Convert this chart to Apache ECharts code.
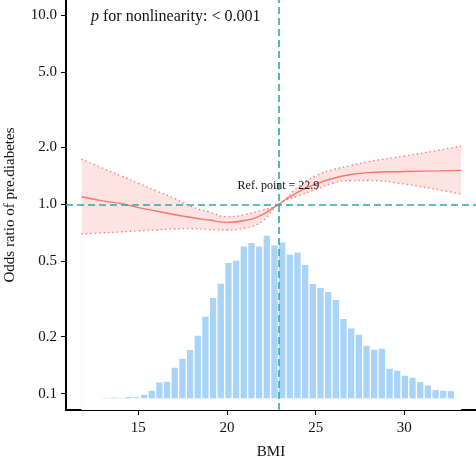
<!DOCTYPE html>
<html>
<head>
<meta charset="utf-8">
<script src="https://cdn.jsdelivr.net/npm/echarts@6/dist/echarts.min.js"></script>
<style>
  html, body { margin: 0; padding: 0; background: #fff; }
  #main { width: 476px; height: 458px; }
</style>
</head>
<body>
<div id="main"></div>
<script>
// spline curve (BMI -> odds ratio with 95% CI)
const bmi = [11.8, 13, 14, 15, 16, 17, 18, 19, 20, 21, 22, 22.9, 24, 25, 26, 27, 28, 30, 32, 33.2];
const oddsRatio = [1.097, 1.043, 1.01, 0.961, 0.922, 0.884, 0.852, 0.826, 0.803, 0.821, 0.883, 1.0, 1.161, 1.28, 1.374, 1.437, 1.47, 1.49, 1.503, 1.512];
const upperCI = [1.735, 1.551, 1.416, 1.293, 1.181, 1.078, 0.974, 0.911, 0.86, 0.883, 0.933, 1.0, 1.234, 1.411, 1.527, 1.603, 1.683, 1.8, 1.936, 2.032];
const lowerCI = [0.697, 0.707, 0.715, 0.724, 0.732, 0.741, 0.745, 0.736, 0.732, 0.749, 0.816, 1.0, 1.106, 1.197, 1.296, 1.336, 1.336, 1.28, 1.19, 1.131];

// BMI distribution (bin centres, relative frequency)
const binCenters = [13.158, 13.591, 14.023, 14.456, 14.888, 15.321, 15.754, 16.186, 16.619, 17.051,
  17.484, 17.917, 18.349, 18.782, 19.214, 19.647, 20.080, 20.512, 20.945, 21.377,
  21.810, 22.243, 22.675, 23.108, 23.540, 23.973, 24.406, 24.838, 25.271, 25.703,
  26.136, 26.569, 27.001, 27.434, 27.866, 28.299, 28.732, 29.164, 29.597, 30.029,
  30.462, 30.895, 31.327, 31.760, 32.192, 32.625];
const binFreq = [0.4, 0.7, 0.4, 1.2, 1.0, 3.5, 7.5, 15.8, 16.5, 30.5,
  39.5, 48.2, 62.5, 81.5, 100.2, 114.5, 135.2, 137.5, 151.8, 155.2,
  151.8, 162.5, 152.8, 155.8, 143.5, 145.8, 133.2, 114.2, 110.2, 106.2,
  98.2, 79.2, 69.8, 63.5, 52.5, 48.5, 49.5, 29.5, 27.5, 22.5,
  20.5, 16.2, 12.8, 8.2, 7.5, 7.2];

const xTicks = [15, 20, 25, 30];
const yTicks = [0.1, 0.2, 0.5, 1, 2, 5, 10];
const refPoint = 22.9;

const font = '"Liberation Serif", "DejaVu Serif", serif';
const red = '#F8766D';
const teal = '#35A7A0';

const zip = (xs, ys) => xs.map((x, i) => [x, ys[i]]);

let myChart = echarts.init(document.getElementById('main'));

let option = {
  animation: false,
  title: {
    text: '{i|p} for nonlinearity: < 0.001',
    left: 86,
    top: 4,
    textStyle: {
      fontFamily: font,
      fontSize: 16,
      fontWeight: 'normal',
      color: '#111',
      rich: {
        i: { fontFamily: font, fontSize: 16, fontStyle: 'italic', color: '#111' }
      }
    }
  },
  grid: {
    left: 66,
    right: 0,
    top: 0,
    bottom: 48,
    outerBoundsMode: 'none'
  },
  xAxis: {
    type: 'value',
    min: 10.92,
    max: 34.04,
    name: 'BMI',
    nameLocation: 'middle',
    nameGap: 35,
    nameTextStyle: { fontFamily: font, fontSize: 15, color: '#111' },
    axisLine: { show: true, onZero: false, lineStyle: { color: '#000', width: 2 } },
    axisTick: { show: true, length: 5, customValues: xTicks, lineStyle: { color: '#000', width: 1 } },
    axisLabel: { customValues: xTicks, margin: 11, fontFamily: font, fontSize: 15, color: '#111' },
    splitLine: { show: false }
  },
  yAxis: [
    {
      type: 'log',
      min: 0.082,
      max: 12,
      name: 'Odds ratio of pre.diabetes',
      nameLocation: 'middle',
      nameRotate: 90,
      nameGap: 48,
      nameTextStyle: { fontFamily: font, fontSize: 15, color: '#111' },
      axisLine: { show: true, onZero: false, lineStyle: { color: '#000', width: 2 } },
      axisTick: { show: true, length: 5, customValues: yTicks, lineStyle: { color: '#000', width: 1 } },
      axisLabel: {
        customValues: yTicks,
        margin: 9,
        fontFamily: font,
        fontSize: 15,
        color: '#111',
        formatter: v => Number(v).toFixed(1)
      },
      splitLine: { show: false }
    },
    {
      // hidden scale for the histogram
      type: 'value',
      min: -11.7,
      max: 398,
      show: false
    }
  ],
  series: [
    {
      // CI band: upper bound filled pink, lower bound masked with white
      name: 'upper',
      type: 'line',
      smooth: true,
      showSymbol: false,
      lineStyle: { color: red, width: 1.3, type: [1.4, 3] },
      areaStyle: { color: '#FDE3E1', opacity: 1, origin: 'start' },
      data: zip(bmi, upperCI),
      z: 1
    },
    {
      name: 'lower',
      type: 'line',
      smooth: true,
      showSymbol: false,
      lineStyle: { color: red, width: 1.3, type: [1.4, 3] },
      areaStyle: { color: '#fff', opacity: 1, origin: 'start' },
      data: zip(bmi, lowerCI),
      z: 1
    },
    {
      name: 'hist',
      type: 'bar',
      yAxisIndex: 1,
      barWidth: 6.3,
      itemStyle: { color: '#A9D4FA' },
      data: zip(binCenters, binFreq),
      z: 2
    },
    {
      name: 'OR',
      type: 'line',
      smooth: true,
      showSymbol: false,
      lineStyle: { color: red, width: 1.4 },
      data: zip(bmi, oddsRatio),
      z: 3,
      markLine: {
        silent: true,
        symbol: ['none', 'none'],
        label: { show: false },
        lineStyle: { color: teal, width: 1.6, type: [7, 4] },
        data: [{ xAxis: refPoint }, { yAxis: 1 }]
      },
      markPoint: {
        silent: true,
        symbol: 'circle',
        symbolSize: 0,
        label: {
          show: true,
          offset: [0, -18],
          formatter: 'Ref. point = ' + refPoint,
          fontFamily: font,
          fontSize: 12,
          color: '#111'
        },
        data: [{ coord: [refPoint, 1] }]
      }
    }
  ]
};

myChart.setOption(option);
window.onresize = function () {
  myChart.resize();
};
</script>
</body>
</html>
